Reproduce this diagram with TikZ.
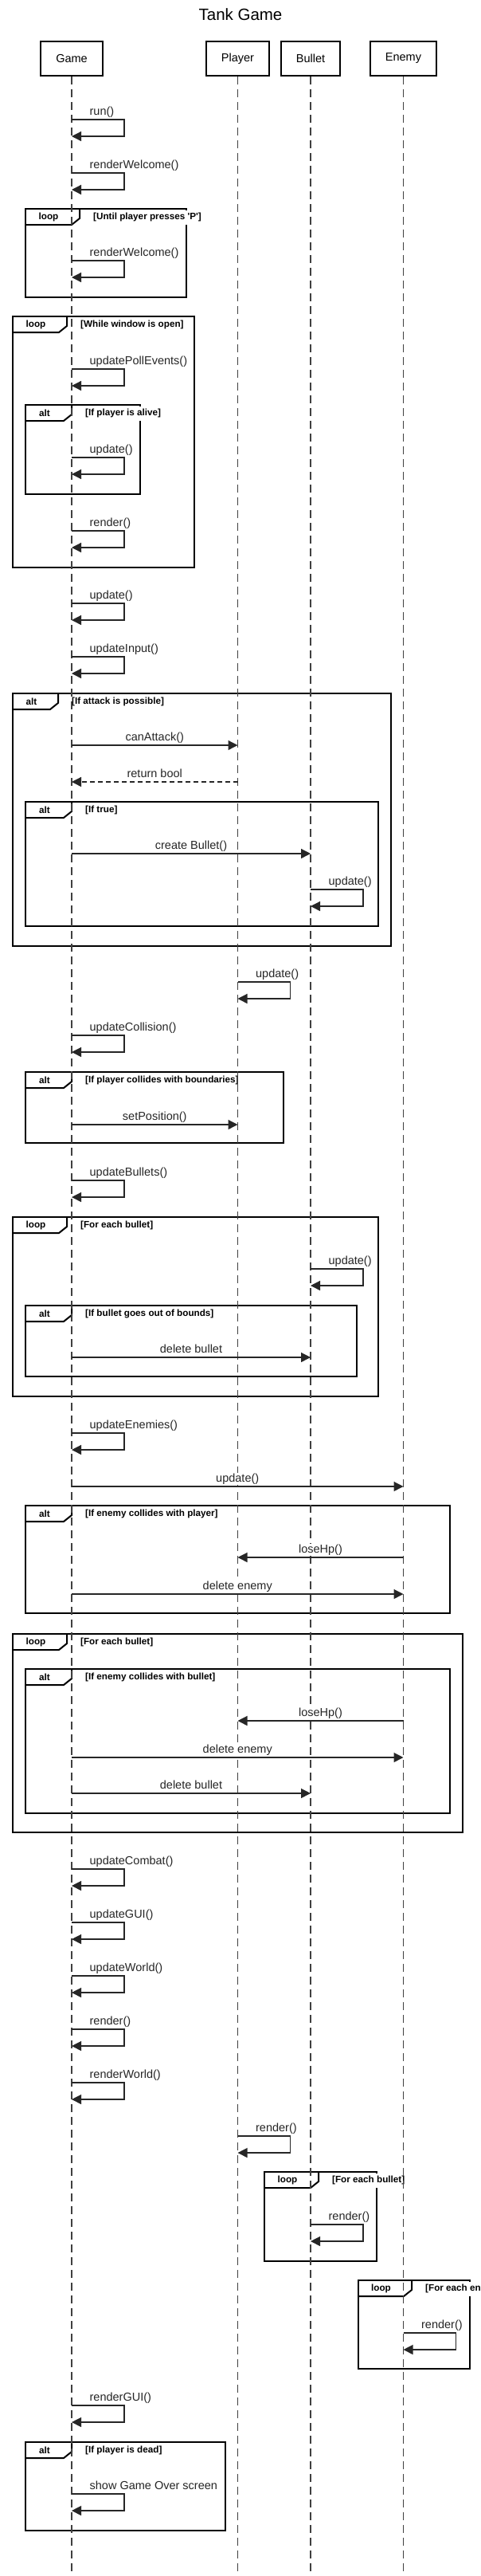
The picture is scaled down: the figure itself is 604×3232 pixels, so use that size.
\documentclass[tikz,border=0pt]{standalone}
\usepackage{fontspec}
\setmainfont{Liberation Sans}
\usetikzlibrary{arrows.meta}

\newcommand{\msgfont}{\fontsize{14.5}{17}\selectfont}
\newcommand{\fragfont}{\bfseries\fontsize{11.7}{14}\selectfont}

\tikzset{
  actor/.style={draw, line width=2pt, fill=white, minimum height=43pt, inner sep=0pt, font=\msgfont},
  lifeline/.style={black!75, line width=1.1pt, dash pattern=on 10pt off 6pt},
  msg/.style={black!85, line width=1.3pt, -{Triangle[length=12pt,width=12pt]}},
  reply/.style={msg, dash pattern=on 6pt off 4pt},
  msglabel/.style={anchor=base, fill=white, inner xsep=1pt, inner ysep=0.5pt, font=\msgfont, text=black!85},
  frame/.style={line width=2pt},
  fragkind/.style={inner sep=0pt, font=\fragfont},
  fragcond/.style={anchor=west, fill=white, minimum height=18pt, inner xsep=1pt, inner ysep=0pt, font=\fragfont},
}

% call of an object on itself
\newcommand{\selfmsg}[3]{%
  \draw[msg] (#1 |- 0,#2) node[msglabel, anchor=base west, xshift=21pt, yshift=6pt] {#3}
    -- ++(66,0) -- ++(0,21) -- ++(-66,0);}
% call from one lifeline to another
\newcommand{\callmsg}[5]{%
  \draw[#1] (#2 |- 0,#4) -- node[msglabel, yshift=6pt] {#5} (#3 |- 0,#4);}
% loop / alt fragment
\newcommand{\fragment}[8]{%
  \draw[frame] (#4,#5) rectangle (#6,#7);
  \draw[frame] (#4,#5+20) -- (#4+#3-10,#5+20) -- (#4+#3,#5+12) -- (#4+#3,#5);
  \node[fragkind] (#1k) at (#4+#3/2-5,#5+10) {#2};
  \node[fragcond] (#1) at (#4+#3+16,#5+10.5) {[#8]};}

\begin{document}
\begin{tikzpicture}[x=1pt,y=-1pt]
\useasboundingbox (0,0) rectangle (604,3232);

\node[font=\fontsize{20.5}{24}\selectfont] (title) at (302,18) {Tank Game};

\foreach \nm/\txt/\cx/\bw in {game/Game/90/78, player/Player/298.5/79, bullet/Bullet/390/74, enemy/Enemy/506.5/83}
  \node[actor, minimum width=\bw pt] (\nm) at (\cx,73.5) {\txt};

\fragment{welcome}{loop}{68}{32}{262}{234}{373}{Until player presses \textquotesingle P\textquotesingle}
\fragment{window}{loop}{68}{16}{397}{244}{712}{While window is open}
\fragment{alive}{alt}{58}{32}{508}{176}{620}{If player is alive}
\fragment{attack}{alt}{57}{16}{870}{491}{1187}{If attack is possible}
\fragment{istrue}{alt}{58}{32}{1006}{475}{1162}{If true}
\fragment{bounds}{alt}{58}{32}{1345}{356}{1434}{If player collides with boundaries}
\fragment{bullets}{loop}{68}{16}{1527}{475}{1752}{For each bullet}
\fragment{outside}{alt}{58}{32}{1638}{448}{1727}{If bullet goes out of bounds}
\fragment{hitplayer}{alt}{58}{32}{1889}{565}{2024}{If enemy collides with player}
\fragment{shots}{loop}{68}{16}{2050}{581}{2299}{For each bullet}
\fragment{hitenemy}{alt}{58}{32}{2094}{565}{2275}{If enemy collides with bullet}
\fragment{drawbullets}{loop}{68}{332}{2725}{473}{2837}{For each bullet}
\fragment{drawenemies}{loop}{67}{450}{2861}{590}{2972}{For each enemy}
\fragment{dead}{alt}{58}{32}{3064}{283}{3175}{If player is dead}

\foreach \nm in {game,player,bullet,enemy}
  \draw[lifeline] (\nm.south) -- (\nm.south |- 0,3232);

\selfmsg{game}{150}{run()}
\selfmsg{game}{217}{renderWelcome()}
\selfmsg{game}{327}{renderWelcome()}
\selfmsg{game}{463}{updatePollEvents()}
\selfmsg{game}{574}{update()}
\selfmsg{game}{666}{render()}
\selfmsg{game}{757}{update()}
\selfmsg{game}{824}{updateInput()}
\callmsg{msg}{game}{player}{935}{canAttack()}
\callmsg{reply}{player}{game}{981}{return bool}
\callmsg{msg}{game}{bullet}{1071}{create Bullet()}
\selfmsg{bullet}{1116}{update()}
\selfmsg{player}{1232}{update()}
\selfmsg{game}{1299}{updateCollision()}
\callmsg{msg}{game}{player}{1411}{setPosition()}
\selfmsg{game}{1481}{updateBullets()}
\selfmsg{bullet}{1592}{update()}
\callmsg{msg}{game}{bullet}{1703}{delete bullet}
\selfmsg{game}{1798}{updateEnemies()}
\callmsg{msg}{game}{enemy}{1865}{update()}
\callmsg{msg}{enemy}{player}{1954}{loseHp()}
\callmsg{msg}{game}{enemy}{2000}{delete enemy}
\callmsg{msg}{enemy}{player}{2159}{loseHp()}
\callmsg{msg}{game}{enemy}{2205}{delete enemy}
\callmsg{msg}{game}{bullet}{2250}{delete bullet}
\selfmsg{game}{2345}{updateCombat()}
\selfmsg{game}{2412}{updateGUI()}
\selfmsg{game}{2479}{updateWorld()}
\selfmsg{game}{2546}{render()}
\selfmsg{game}{2613}{renderWorld()}
\selfmsg{player}{2680}{render()}
\selfmsg{bullet}{2791}{render()}
\selfmsg{enemy}{2927}{render()}
\selfmsg{game}{3018}{renderGUI()}
\selfmsg{game}{3129}{show Game Over screen}

\end{tikzpicture}
\end{document}
